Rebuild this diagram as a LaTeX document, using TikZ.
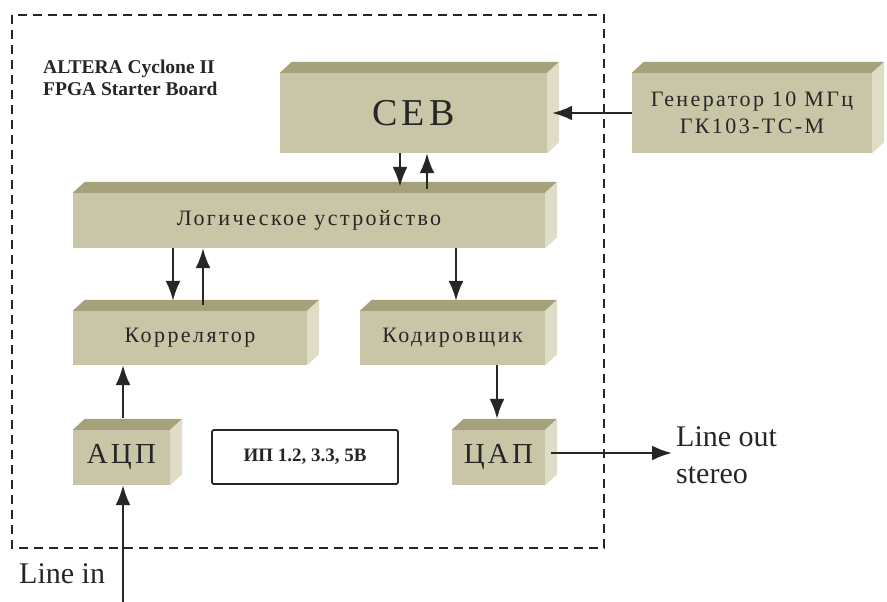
\documentclass[tikz,border=0pt]{standalone}
\usepackage{fontspec}
\setmainfont{Liberation Serif}
\newfontfamily\widefont[LetterSpace=11]{Liberation Serif}
\usetikzlibrary{arrows.meta,calc}
\definecolor{khaki}{HTML}{C9C6A7}
\definecolor{khakitop}{HTML}{A5A27B}
\definecolor{khakiside}{HTML}{DFDDC8}
\definecolor{ink}{HTML}{262626}

\begin{document}
\begin{tikzpicture}[x=1pt,y=-1pt,
    block/.style={fill=khaki,inner sep=0pt,text=ink,align=center,font=\widefont\fontsize{22}{27}\selectfont},
    arr/.style={draw=ink,line width=2.3pt,-{Latex[length=20pt,width=15pt]}}]
  \useasboundingbox (0,0) rectangle (887,602);
  % board outline
  \draw[ink,line width=2.8pt,dash pattern=on 9pt off 6pt] (12,15) rectangle (604,548);
  \node[anchor=north west,align=left,inner sep=0pt,text=ink,font=\bfseries\fontsize{19.5}{22}\selectfont] (board) at (43,60) {ALTERA Cyclone II\\FPGA Starter Board};
  % blocks
  \node[block,minimum width=267pt,minimum height=80pt,font=\widefont\fontsize{38}{40}\selectfont] (ceb) at (413.5,113) {СЕВ};
  \node[block,minimum width=240pt,minimum height=80pt] (gen) at (752,113) {Генератор 10 МГц\\ГК103-ТС-М};
  \node[block,minimum width=472pt,minimum height=55pt] (logic) at (309,220.5) {Логическое устройство};
  \node[block,minimum width=234pt,minimum height=54pt] (corr) at (190,338) {Коррелятор};
  \node[block,minimum width=185pt,minimum height=54pt] (coder) at (452.5,338) {Кодировщик};
  \node[block,minimum width=97pt,minimum height=55pt,font=\widefont\fontsize{29}{32}\selectfont] (adc) at (121.5,457.5) {АЦП};
  \node[block,minimum width=93pt,minimum height=55pt,font=\widefont\fontsize{29}{32}\selectfont] (dac) at (498.5,457.5) {ЦАП};
  \node[draw=ink,line width=1.8pt,rounded corners=2pt,minimum width=186pt,minimum height=54pt,text=ink,font=\bfseries\fontsize{19}{22}\selectfont] (power) at (305,457) {ИП 1.2, 3.3, 5В};
  % top and side faces
  \foreach \n in {ceb,gen,logic,corr,coder,adc,dac}{
    \fill[khakitop] (\n.north west) -- ++(12,-11) -- ($(\n.north east)+(12,-11)$) -- (\n.north east) -- cycle;
    \fill[khakiside] (\n.north east) -- ++(12,-11) -- ($(\n.south east)+(12,-11)$) -- (\n.south east) -- cycle;
  }
  % connections
  \coordinate (linein) at (123,602);
  \coordinate (lineout) at (672,453);
  \draw[arr] (gen.west) -- ([xshift=5pt]ceb.east);
  \draw[arr] ($(ceb.south)+(-13.5,0)$) -- ($(ceb.south |- logic.north)+(-13.5,-6)$);
  \draw[arr] ($(ceb.south |- logic.north)+(13.5,-4)$) -- ($(ceb.south)+(13.5,0)$);
  \draw[arr] ($(corr.north |- logic.south)+(-17,0)$) -- ($(corr.north)+(-17,-10)$);
  \draw[arr] ($(corr.north)+(13,-6)$) -- ($(corr.north |- logic.south)+(13,0)$);
  \draw[arr] ($(coder.north |- logic.south)+(3.5,0)$) -- ($(coder.north)+(3.5,-10)$);
  \draw[arr] ($(adc.north)+(1.5,-12)$) -- ($(adc.north |- corr.south)+(1.5,0)$);
  \draw[arr] (linein) -- ($(adc.south)+(1.5,0)$);
  \draw[arr] ($(dac.north |- coder.south)+(-1.5,0)$) -- ($(dac.north)+(-1.5,-11)$);
  \draw[arr] ($(dac.east)+(6,-4.5)$) -- (lineout);
  % outside labels
  \node[anchor=west,align=left,inner sep=0pt,text=ink,font=\fontsize{30}{37}\selectfont] (outlbl) at (676,455) {Line out\\stereo};
  \node[anchor=west,inner sep=0pt,text=ink,font=\fontsize{30}{36}\selectfont] (inlbl) at (19,574) {Line in};
\end{tikzpicture}
\end{document}
